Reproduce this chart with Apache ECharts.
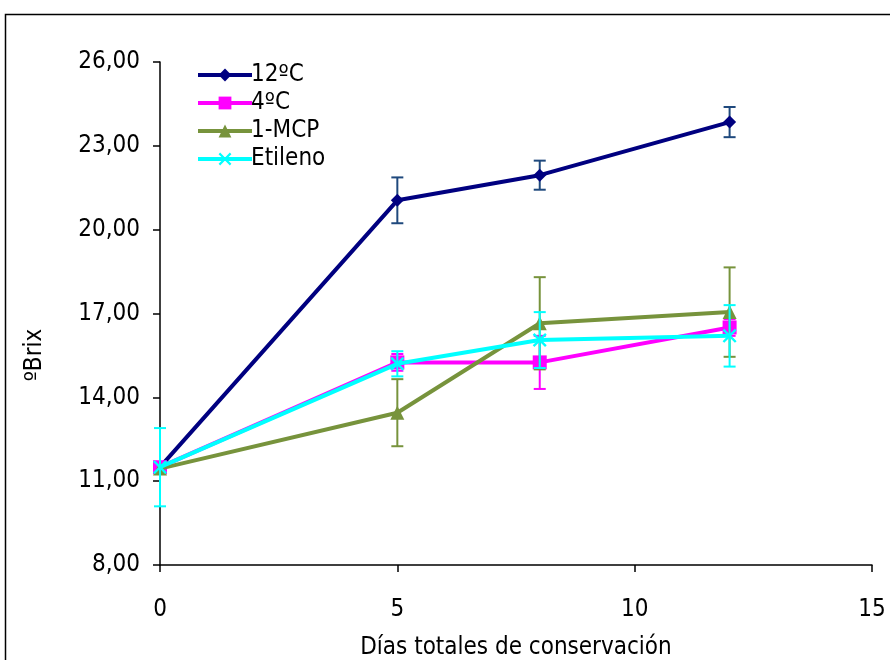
<!DOCTYPE html>
<html><head><meta charset="utf-8">
<script src="https://cdn.jsdelivr.net/npm/echarts@6/dist/echarts.min.js"></script>
<style>html,body{margin:0;padding:0;background:#fff}#c{width:890px;height:660px}</style>
</head><body><div id="c"></div>
<script>
const days = [0, 5, 8, 12];
const seriesNames = ['12ºC', '4ºC', '1-MCP', 'Etileno'];
const brix12 = [11.5, 21.05, 21.95, 23.85];
const err12 = [0, 0.82, 0.52, 0.54];
const brix4 = [11.5, 15.25, 15.25, 16.5];
const err4 = [0, 0.3, 0.95, 0.3];
const brixMCP = [11.45, 13.45, 16.65, 17.05];
const errMCP = [0, 1.2, 1.65, 1.6];
const brixEt = [11.5, 15.2, 16.05, 16.2];
const errEt = [1.4, 0.45, 1.0, 1.1];
const yTicks = [8, 11, 14, 17, 20, 23, 26];
const xTicks = [0, 5, 10, 15];

const FONT = '"Liberation Sans Narrow","DejaVu Sans Condensed","Liberation Sans",sans-serif';
const FS = 24;
const colors = ['#000080', '#ff00ff', '#77933c', '#00ffff'];
const errColors = ['#1f497d', '#ff00ff', '#77933c', '#00ffff'];
const symbols = ['diamond', 'rect', 'triangle',
  'path://M0,1.2L1.2,0L5,3.8L8.8,0L10,1.2L6.2,5L10,8.8L8.8,10L5,6.2L1.2,10L0,8.8L3.8,5Z'];
const symSizes = [13, 14, 14, 14];
const vals = [brix12, brix4, brixMCP, brixEt];
const errs = [err12, err4, errMCP, errEt];

const series = [];
vals.forEach((v, i) => {
  series.push({
    name: seriesNames[i], type: 'line',
    data: days.map((d, k) => [d, v[k]]),
    symbol: symbols[i], symbolSize: symSizes[i],
    showSymbol: true,
    lineStyle: { color: colors[i], width: 4 },
    itemStyle: { color: colors[i] },
    z: 3 + i * 2
  });
  series.push({
    type: 'custom', silent: true, z: 2 + i * 2,
    data: days.map((d, k) => [d, v[k] - errs[i][k], v[k] + errs[i][k]]),
    renderItem: function (params, api) {
      const x = api.value(0);
      const lo = api.coord([x, api.value(1)]);
      const hi = api.coord([x, api.value(2)]);
      const hw = 6;
      const st = { stroke: errColors[i], lineWidth: 2 };
      if (Math.abs(hi[1] - lo[1]) < 0.5) return { type: 'group', children: [] };
      return {
        type: 'group', children: [
          { type: 'line', shape: { x1: lo[0], y1: lo[1], x2: hi[0], y2: hi[1] }, style: st },
          { type: 'line', shape: { x1: lo[0] - hw, y1: lo[1], x2: lo[0] + hw, y2: lo[1] }, style: st },
          { type: 'line', shape: { x1: hi[0] - hw, y1: hi[1], x2: hi[0] + hw, y2: hi[1] }, style: st }
        ]
      };
    }
  });
});

const chart = echarts.init(document.getElementById('c'));
chart.setOption({
  animation: false,
  backgroundColor: '#fff',
  textStyle: { fontFamily: FONT },
  grid: { left: 160, right: 18, top: 62, bottom: 95, containLabel: false, outerBoundsMode: 'none' },
  legend: {
    data: seriesNames, orient: 'vertical', left: 191, top: 58,
    itemWidth: 54, itemHeight: 16, itemGap: 4,
    lineStyle: { width: 4 },
    textStyle: { fontSize: FS, color: '#000', fontFamily: FONT, padding: [0, 0, 0, -6] }
  },
  xAxis: {
    type: 'value', min: xTicks[0], max: xTicks[xTicks.length - 1], interval: 5,
    splitLine: { show: false },
    axisLine: { lineStyle: { color: '#000', width: 1.5 } },
    axisTick: { show: true, inside: false, length: 7, lineStyle: { color: '#000', width: 1.5 } },
    axisLabel: { fontSize: FS, color: '#000', margin: 33, fontFamily: FONT },
    name: 'Días totales de conservación', nameLocation: 'middle', nameGap: 71,
    nameTextStyle: { fontSize: FS, color: '#000', fontFamily: FONT }
  },
  yAxis: {
    type: 'value', min: yTicks[0], max: yTicks[yTicks.length - 1], interval: 3,
    splitLine: { show: false },
    axisLine: { show: true, lineStyle: { color: '#000', width: 1.5 } },
    axisTick: { show: true, inside: false, length: 7, lineStyle: { color: '#000', width: 1.5 } },
    axisLabel: { fontSize: FS, color: '#000', margin: 20, fontFamily: FONT,
      formatter: v => v.toFixed(2).replace('.', ',') }
  },
  graphic: [
    { type: 'rect', shape: { x: 5.5, y: 14.5, width: 900, height: 700 },
      style: { fill: 'none', stroke: '#000', lineWidth: 1.5 }, z: 0 },
    { type: 'text', x: 35, y: 355, rotation: Math.PI / 2,
      style: { text: 'ºBrix', fontSize: FS, fill: '#000', fontFamily: FONT,
        textAlign: 'center', textVerticalAlign: 'middle' } }
  ],
  series: series
});
</script></body></html>
